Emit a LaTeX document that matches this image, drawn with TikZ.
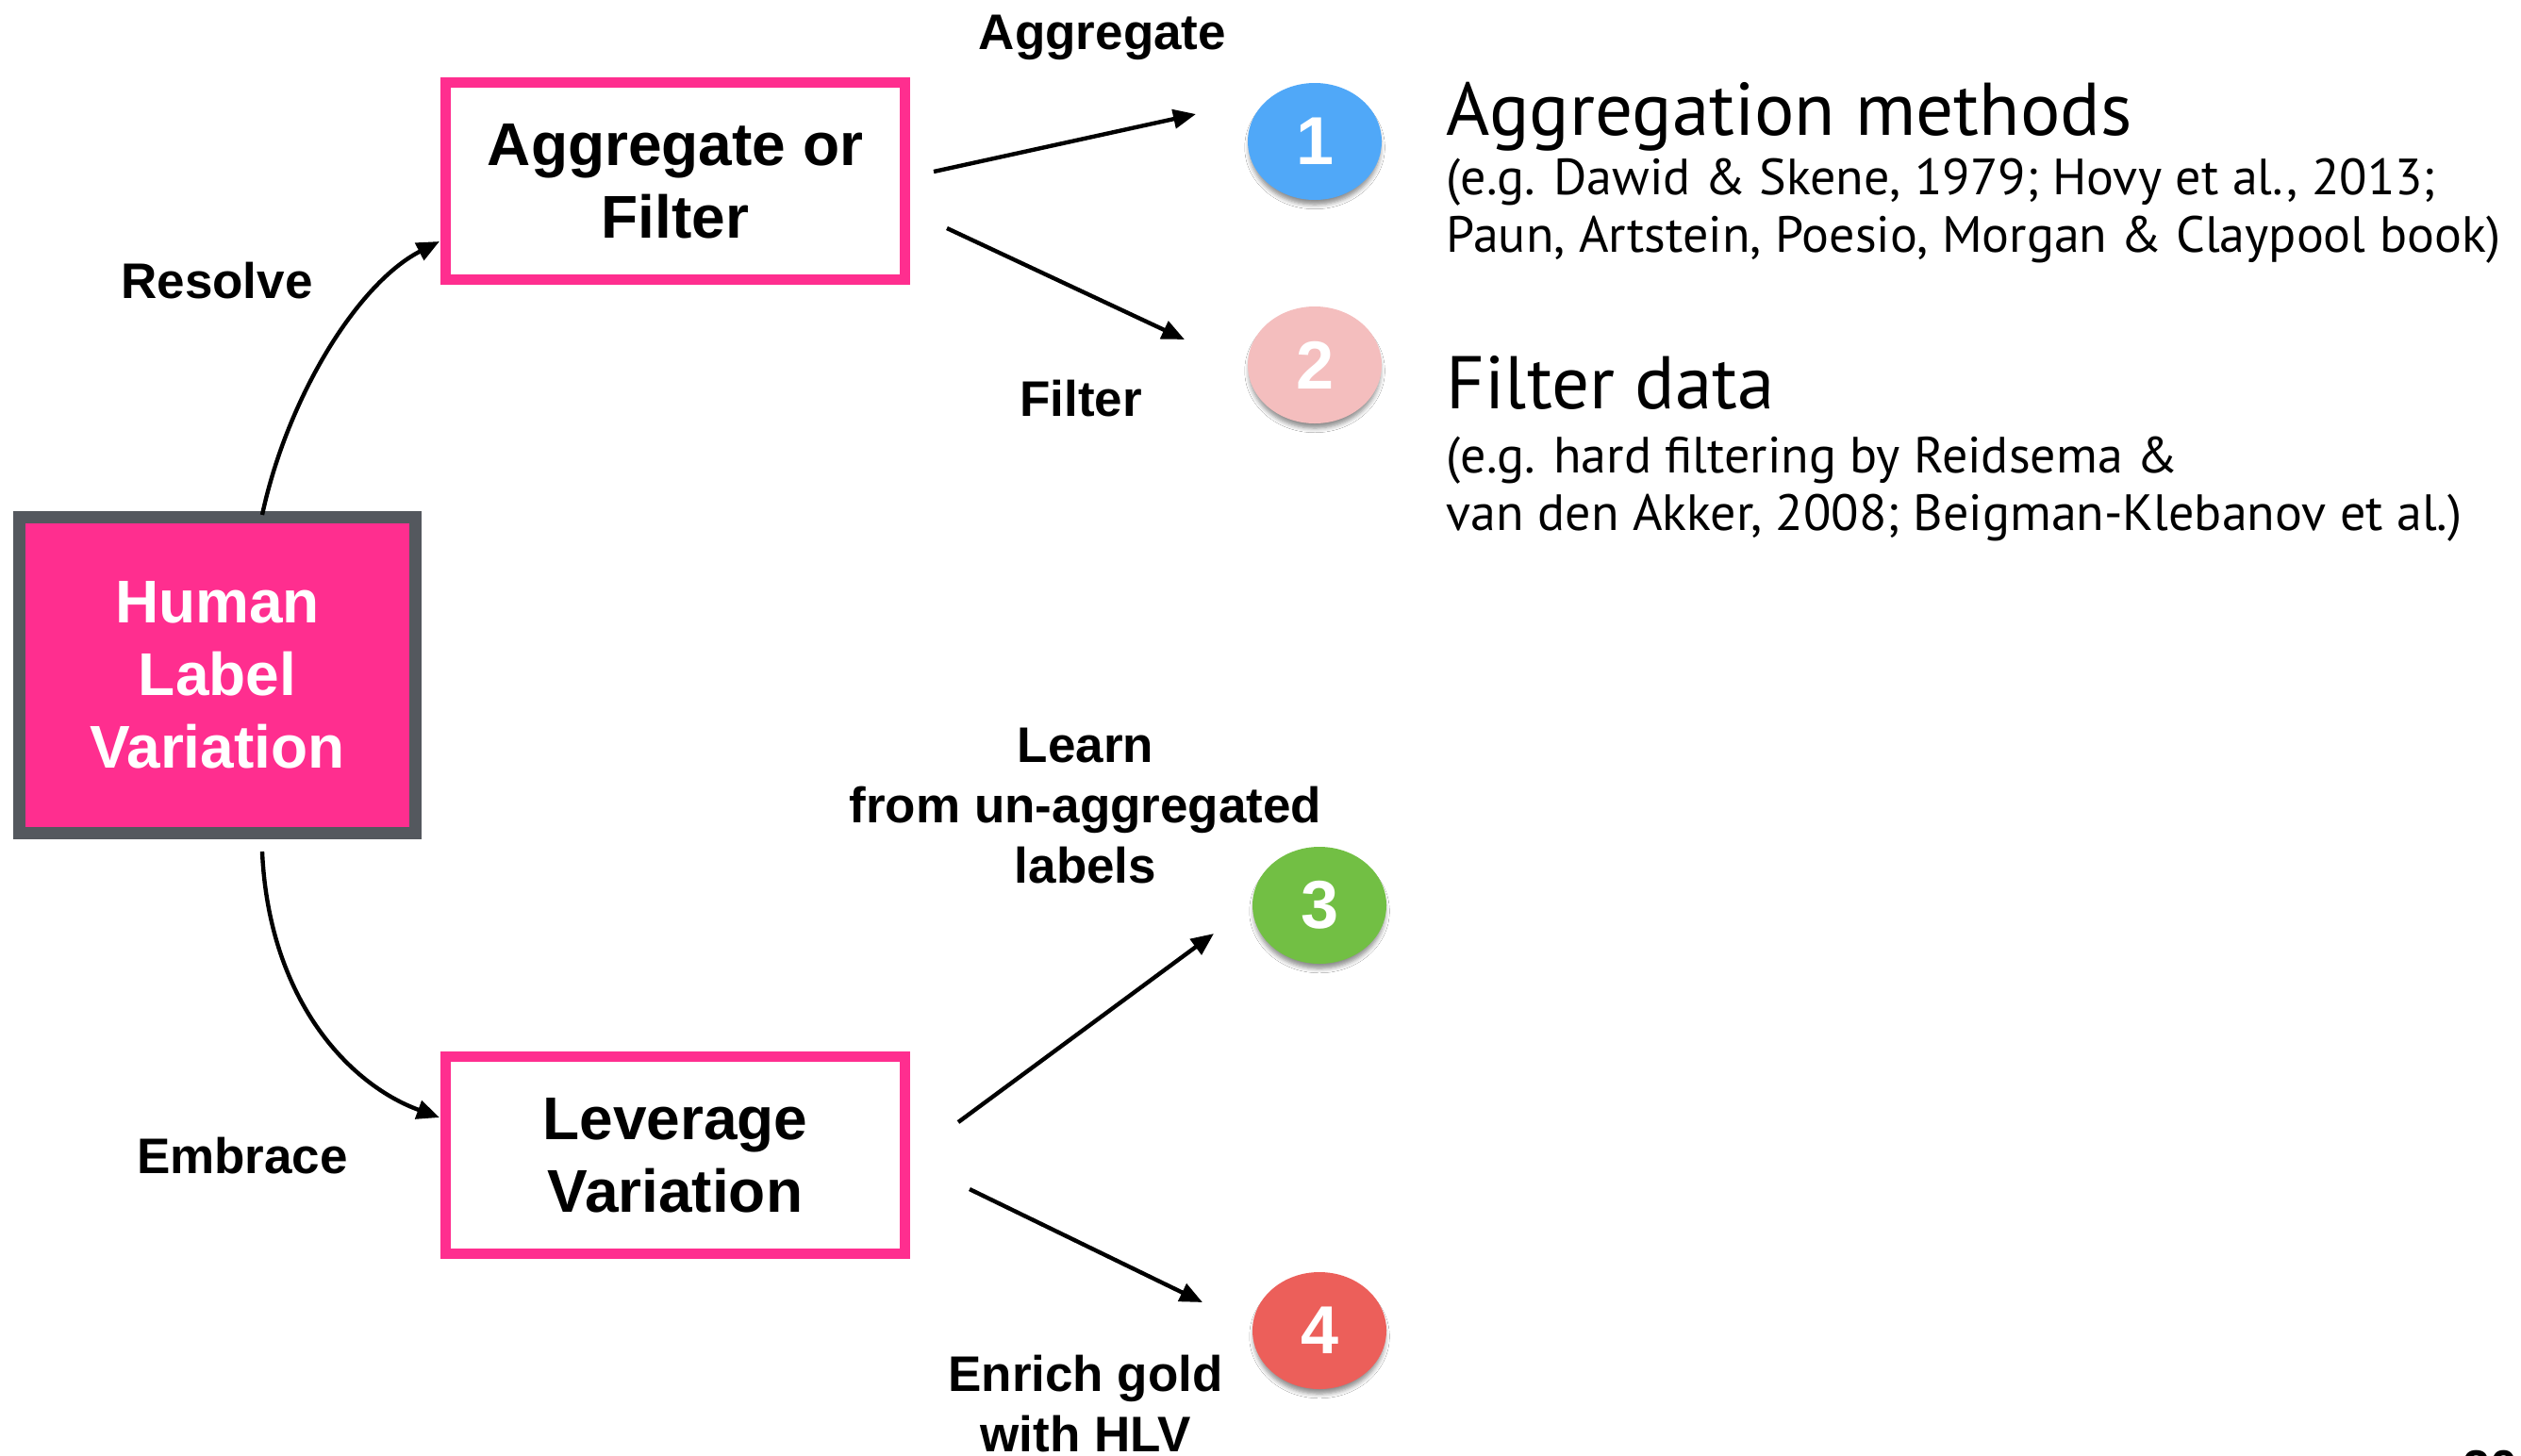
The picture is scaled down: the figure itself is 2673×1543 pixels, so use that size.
\documentclass[tikz,border=0pt]{standalone}
\usepackage{fontspec}
\setmainfont{Liberation Sans}
\newfontfamily\optfont{PT Sans}
\usetikzlibrary{arrows.meta,shapes.geometric,shadows.blur}
\definecolor{hlvpink}{HTML}{FF2E8F}
\definecolor{hlvgray}{HTML}{54585E}
\definecolor{cblue}{HTML}{50A8F8}
\definecolor{cpink}{HTML}{F4BEBE}
\definecolor{cgreen}{HTML}{72BF44}
\definecolor{cred}{HTML}{EC5F5A}
\begin{document}
\begin{tikzpicture}[x=0.25pt,y=-0.25pt,
  boxtext/.style={font=\fontsize{16}{19.25}\selectfont\bfseries, align=center},
  mainbox/.style={boxtext, draw=hlvpink, line width=2.75pt, fill=white, minimum width=121.75pt, minimum height=52.25pt, inner sep=0pt},
  rootbox/.style={boxtext, draw=hlvgray, line width=3.25pt, fill=hlvpink, text=white, minimum width=105pt, minimum height=83.75pt, inner sep=0pt},
  num/.style={ellipse, minimum width=35.5pt, minimum height=31pt, inner sep=0pt, text=white, font=\fontsize{18}{18}\selectfont\bfseries, blur shadow={shadow xshift=0pt, shadow yshift=-1.6pt, shadow opacity=45, shadow blur radius=1.2pt, shadow blur steps=5, shadow scale=0.98}},
  lbl/.style={font=\fontsize{13.25}{16}\selectfont\bfseries, align=center, inner sep=0pt},
  arr/.style={line width=1.1pt, -{Triangle[length=6pt,width=5pt]}},
  head/.style={font=\optfont\fontsize{19.8}{22}\selectfont, anchor=base west, inner sep=0pt},
  refs/.style={font=\optfont\fontsize{13.5}{15.25}\selectfont, anchor=base west, inner sep=0pt},
]
\useasboundingbox[fill=white] (0,0) rectangle (2673,1543);

% boxes
\node[rootbox] (hlv) at (230.5,716) {Human\\Label\\Variation};
\node[mainbox] (agg) at (716,192) {Aggregate or\\Filter};
\node[mainbox] (lev) at (716,1225) {Leverage\\Variation};

% numbered circles
\node[num, fill=cblue] (c1) at (1394,150) {1};
\node[num, fill=cpink] (c2) at (1394,387) {2};
\node[num, fill=cgreen] (c3) at (1399,960) {3};
\node[num, fill=cred] (c4) at (1399,1411) {4};

% labels
\node[lbl] (lres) at (230,298) {Resolve};
\node[lbl] (lemb) at (257,1226) {Embrace};
\node[lbl] (lagg) at (1169,40) {Aggregate};
\node[lbl] (lfil) at (1146,423) {Filter};
\node[lbl] (llearn) at (1151,855) {Learn\\from un-aggregated\\labels};
\node[lbl] (lenr) at (1151,1488) {Enrich gold\\with HLV};

% connector end points
\coordinate (rs) at (278,546);
\coordinate (re) at (466,256);
\coordinate (es) at (278,903);
\coordinate (ee) at (466,1185);
\coordinate (a1s) at (990,182);
\coordinate (a1e) at (1268,121);
\coordinate (a2s) at (1004,242);
\coordinate (a2e) at (1256,360);
\coordinate (a3s) at (1016,1190);
\coordinate (a3e) at (1287,990);
\coordinate (a4s) at (1028,1261);
\coordinate (a4e) at (1275,1381);

\draw[arr] (rs) .. controls (305,420) and (380,300) .. (re);
\draw[arr] (es) .. controls (285,1060) and (370,1150) .. (ee);
\draw[arr] (a1s) -- (a1e);
\draw[arr] (a2s) -- (a2e);
\draw[arr] (a3s) -- (a3e);
\draw[arr] (a4s) -- (a4e);

% right-hand texts
\node[head] (t1) at (1533,143) {Aggregation methods};
\node[refs] (t1a) at (1533,206) {(e.g. Dawid \& Skene, 1979; Hovy et al., 2013;};
\node[refs] (t1b) at (1533,267) {Paun, Artstein, Poesio, Morgan \& Claypool book)};
\node[head] (t2) at (1533,433) {Filter data};
\node[refs] (t2a) at (1533,501) {(e.g. hard filtering by Reidsema \&};
\node[refs] (t2b) at (1533,562) {van den Akker, 2008; Beigman-Klebanov et al.)};

% page number (cut off at the bottom edge)
\node[font=\fontsize{13}{13}\selectfont\bfseries, anchor=north, inner sep=0pt] (pg) at (2640,1537) {20};
\end{tikzpicture}
\end{document}
